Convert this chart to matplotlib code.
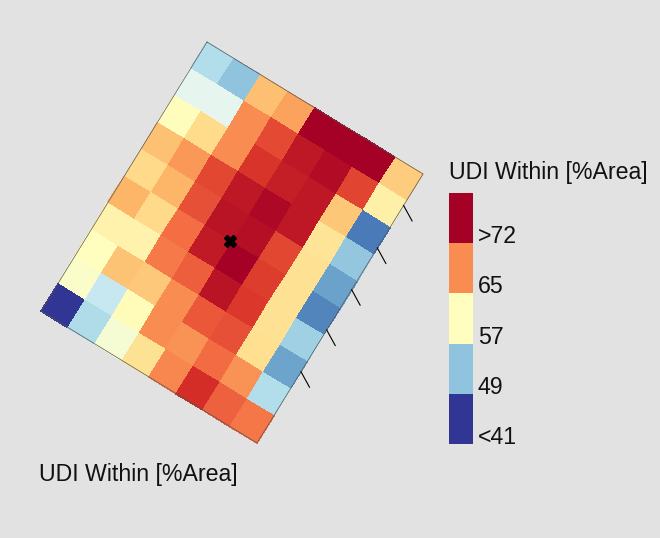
"""Mapa de UDI rotacionado, com legenda em cinco classes."""
import matplotlib
matplotlib.use("Agg")
import matplotlib.pyplot as plt
import numpy as np
from matplotlib.transforms import Affine2D

plt.rcParams["font.family"] = ["Liberation Sans", "DejaVu Sans"]

FUNDO = "#e2e2e2"

# UDI por célula (linha 0 = canto superior)
linha_0 = [50.7, 48.8, 61.7, 63.2, 72.0, 72.0, 71.9, 60.8]
linha_1 = [54.0, 54.0, 64.3, 67.6, 70.4, 71.2, 67.8, 58.0]
linha_2 = [56.7, 59.8, 64.3, 68.7, 70.0, 70.4, 61.2, 44.5]
linha_3 = [61.5, 63.7, 67.7, 70.4, 71.5, 70.4, 59.2, 49.0]
linha_4 = [60.0, 62.3, 67.2, 70.7, 71.0, 67.7, 59.5, 46.6]
linha_5 = [62.3, 60.0, 65.8, 70.2, 71.9, 68.2, 59.5, 45.0]
linha_6 = [57.8, 57.8, 65.2, 66.5, 70.7, 68.4, 59.5, 49.6]
linha_7 = [56.5, 61.4, 61.0, 64.3, 66.8, 67.2, 59.6, 46.7]
linha_8 = [56.0, 52.0, 56.8, 64.3, 64.0, 65.9, 64.0, 50.7]
linha_9 = [41.0, 50.6, 55.5, 59.3, 64.5, 69.0, 66.4, 65.3]

udi = np.array([linha_0, linha_1, linha_2, linha_3, linha_4,
                linha_5, linha_6, linha_7, linha_8, linha_9])

niveis = [41, 48.75, 56.5, 64.25, 72]
rotulos_legenda = ["<41", "49", "57", "65", ">72"]
ticks_linha = [1.17, 2.75, 4.3, 5.8, 7.35]
ponto_col, ponto_linha = 3.92, 4.99

titulo = "UDI Within [%Area]"

fig = plt.figure(figsize=(6.6, 5.38), dpi=100, facecolor=FUNDO)

# eixo em pixels da imagem, a grade entra por uma transformação afim
ax = fig.add_axes([0, 0, 1, 1])
ax.set_xlim(0, 660)
ax.set_ylim(538, 0)
ax.axis("off")

grade = Affine2D.from_values(27.0, 16.5, -16.6, 26.9, 207, 42) + ax.transData

n_lin, n_col = udi.shape
ax.pcolormesh(np.arange(n_col + 1), np.arange(n_lin + 1), udi,
              cmap="RdYlBu_r", vmin=41, vmax=72,
              edgecolors="face", linewidth=0.3, transform=grade)

ax.plot([0, n_col, n_col, 0, 0], [0, 0, n_lin, n_lin, 0],
        color="#555555", lw=0.5, transform=grade)

# os ticks saem da borda direita na vertical do eixo original
for r in ticks_linha:
    ax.plot([n_col, n_col + 0.486], [r, r + 0.278], color="black", lw=0.8,
            clip_on=False, transform=grade)

ax.plot([ponto_col], [ponto_linha], marker="X", ms=8.5, color="black",
        mec="black", transform=grade)

ax.text(39, 475, titulo, fontsize=16.7, ha="left", va="center", color="#111111")
ax.text(449, 173, titulo, fontsize=16.7, ha="left", va="center", color="#111111")

# legenda em classes
ax_leg = fig.add_axes([449 / 660, 1 - 444 / 538, 24 / 660, 251 / 538])
cores = plt.get_cmap("RdYlBu_r")((np.array(niveis) - 41) / 31)
for i, cor in enumerate(cores):
    ax_leg.bar(0, 1, width=1, bottom=i, color=cor, linewidth=0)
ax_leg.set_xlim(-0.5, 0.5)
ax_leg.set_ylim(0, 5)
ax_leg.axis("off")
for i, rotulo in enumerate(rotulos_legenda):
    ax_leg.text(0.7, i + 0.13, rotulo, fontsize=16.7, ha="left",
                va="center", color="#111111", transform=ax_leg.transData)

fig.savefig("out.png", dpi=100, facecolor=FUNDO)
